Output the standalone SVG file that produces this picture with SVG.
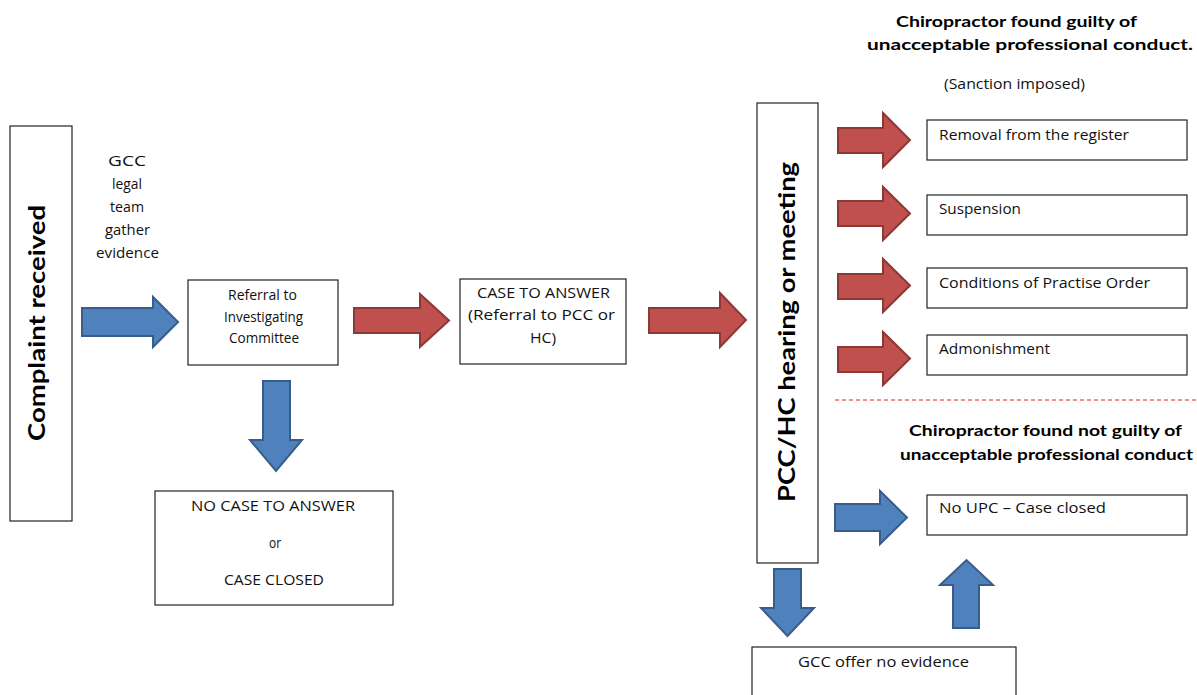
<svg xmlns="http://www.w3.org/2000/svg" width="1197" height="695" viewBox="0 0 1197 695">
<style>
.box{fill:#fff;stroke:#222;stroke-width:1.2}
.t{font-family:"Open Sans",Lato,"Liberation Sans",sans-serif;font-size:14px;fill:#111}
.tb{font-family:Lato,"Open Sans","Liberation Sans",sans-serif;font-weight:bold;fill:#000}
.blue{fill:#4f81bd;stroke:#385d8a;stroke-width:2;stroke-linejoin:miter}
.red{fill:#c0504d;stroke:#8c3836;stroke-width:2;stroke-linejoin:miter}
.dash{stroke:#e02020;stroke-width:1;stroke-dasharray:4 3;fill:none}
</style>
<rect width="1197" height="695" fill="#fff"/>

<g id="complaint">
<rect class="box" x="10" y="126" width="62" height="395"/>
<text class="tb" font-size="23" text-anchor="middle" transform="translate(45,323) rotate(-90)" textLength="236" lengthAdjust="spacingAndGlyphs">Complaint received</text>
</g>

<g id="gcc-legal">
<text class="t" font-size="15" x="108" y="166" textLength="38" lengthAdjust="spacingAndGlyphs">GCC</text>
<text class="t" font-size="15" x="112" y="189" textLength="30" lengthAdjust="spacingAndGlyphs">legal</text>
<text class="t" font-size="15" x="110" y="212" textLength="34" lengthAdjust="spacingAndGlyphs">team</text>
<text class="t" font-size="15" x="105" y="235" textLength="45" lengthAdjust="spacingAndGlyphs">gather</text>
<text class="t" font-size="15" x="96" y="258" textLength="63" lengthAdjust="spacingAndGlyphs">evidence</text>
</g>

<g id="referral">
<rect class="box" x="188" y="280" width="150" height="85"/>
<text class="t" font-size="13" x="228" y="300" textLength="69" lengthAdjust="spacingAndGlyphs">Referral to</text>
<text class="t" font-size="13" x="224" y="322" textLength="79" lengthAdjust="spacingAndGlyphs">Investigating</text>
<text class="t" font-size="13" x="229" y="343" textLength="70" lengthAdjust="spacingAndGlyphs">Committee</text>
</g>

<g id="no-case">
<rect class="box" x="155" y="491" width="238" height="114"/>
<text class="t" x="191" y="511" textLength="164" lengthAdjust="spacingAndGlyphs">NO CASE TO ANSWER</text>
<text class="t" x="269" y="548" textLength="12" lengthAdjust="spacingAndGlyphs">or</text>
<text class="t" x="224" y="585" textLength="100" lengthAdjust="spacingAndGlyphs">CASE CLOSED</text>
</g>

<g id="case-to-answer">
<rect class="box" x="460" y="279" width="166" height="85"/>
<text class="t" x="477" y="298" textLength="133" lengthAdjust="spacingAndGlyphs">CASE TO ANSWER</text>
<text class="t" x="468" y="320" textLength="147" lengthAdjust="spacingAndGlyphs">(Referral to PCC or</text>
<text class="t" x="530" y="343" textLength="26" lengthAdjust="spacingAndGlyphs">HC)</text>
</g>

<g id="pcc-hc">
<rect class="box" x="757" y="103" width="61" height="460"/>
<text class="tb" font-size="23" text-anchor="middle" transform="translate(795,332) rotate(-90)" textLength="340" lengthAdjust="spacingAndGlyphs">PCC/HC hearing or meeting</text>
</g>

<g id="guilty-heading">
<text class="tb" font-size="15" x="896" y="27" textLength="241" lengthAdjust="spacingAndGlyphs">Chiropractor found guilty of</text>
<text class="tb" font-size="15" x="867" y="50" textLength="326" lengthAdjust="spacingAndGlyphs">unacceptable professional conduct.</text>
<text class="t" font-size="15" x="944" y="89" textLength="141" lengthAdjust="spacingAndGlyphs">(Sanction imposed)</text>
</g>

<g id="removal">
<rect class="box" x="927" y="120" width="260" height="40"/>
<text class="t" font-size="15" x="939" y="140" textLength="190" lengthAdjust="spacingAndGlyphs">Removal from the register</text>
</g>
<g id="suspension">
<rect class="box" x="927" y="195" width="260" height="40"/>
<text class="t" font-size="15" x="939" y="214" textLength="82" lengthAdjust="spacingAndGlyphs">Suspension</text>
</g>
<g id="conditions">
<rect class="box" x="927" y="268" width="260" height="40"/>
<text class="t" font-size="15" x="939" y="288" textLength="211" lengthAdjust="spacingAndGlyphs">Conditions of Practise Order</text>
</g>
<g id="admonishment">
<rect class="box" x="927" y="335" width="260" height="40"/>
<text class="t" font-size="15" x="939" y="354" textLength="111" lengthAdjust="spacingAndGlyphs">Admonishment</text>
</g>

<g id="separator">
<line class="dash" x1="835" y1="400" x2="1197" y2="400"/>
</g>

<g id="not-guilty-heading">
<text class="tb" font-size="15" x="909" y="436" textLength="273" lengthAdjust="spacingAndGlyphs">Chiropractor found not guilty of</text>
<text class="tb" font-size="15" x="900" y="460" textLength="293" lengthAdjust="spacingAndGlyphs">unacceptable professional conduct</text>
</g>

<g id="no-upc">
<rect class="box" x="927" y="495" width="260" height="40"/>
<text class="t" font-size="15" x="939" y="513" textLength="167" lengthAdjust="spacingAndGlyphs">No UPC – Case closed</text>
</g>

<g id="gcc-no-evidence">
<rect class="box" x="752" y="647" width="264" height="60"/>
<text class="t" font-size="15" x="798" y="667" textLength="171" lengthAdjust="spacingAndGlyphs">GCC offer no evidence</text>
</g>

<g id="connectors">
<path class="blue" d="M82,308 H153 V297 L178,322 L153,347 V336 H82 Z"/>
<path class="blue" d="M263,381 H290 V440 H302 L276,471 L250,440 H263 Z"/>
<path class="red" d="M354,308 H420 V294 L449,320.5 L420,347 V333 H354 Z"/>
<path class="red" d="M649,308 H720 V293 L746,320 L720,347 V333 H649 Z"/>
<path class="red" d="M838,128 H883 V113 L910,140 L883,167 V153 H838 Z"/>
<path class="red" d="M838,201 H883 V187 L910,213.5 L883,240 V226 H838 Z"/>
<path class="red" d="M838,274 H883 V259 L910,285.5 L883,312 V299 H838 Z"/>
<path class="red" d="M838,347 H883 V332 L910,358.5 L883,385 V372 H838 Z"/>
<path class="blue" d="M835,504 H880 V491 L907,517.5 L880,544 V531 H835 Z"/>
<path class="blue" d="M774,569 H801 V608 H814 L787.5,636 L761,608 H774 Z"/>
<path class="blue" d="M953,628 V585 H940 L966.5,560 L993,585 H979 V628 Z"/>
</g>
</svg>
